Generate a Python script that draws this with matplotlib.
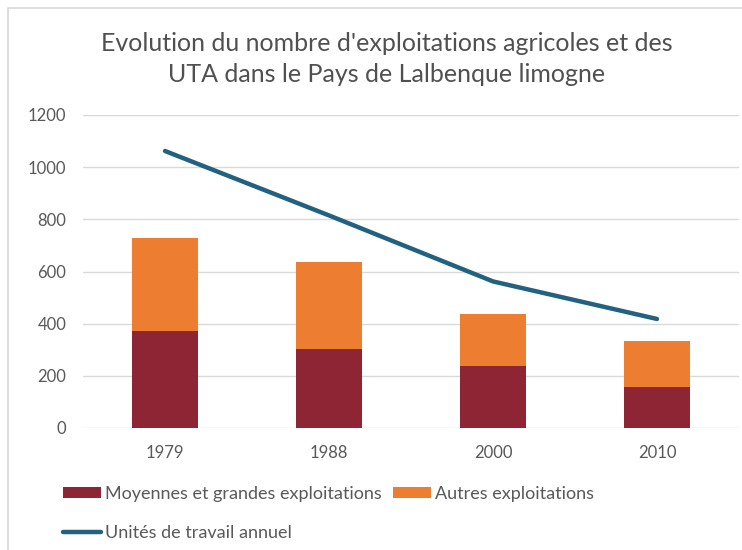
import matplotlib
matplotlib.use("Agg")
import matplotlib.pyplot as plt
from matplotlib.patches import Rectangle
import numpy as np

years = ["1979", "1988", "2000", "2010"]
moyennes = [372, 301, 237, 158]
autres = [355, 337, 201, 177]
uta = [1062, 815, 562, 418]
yticks = [0, 200, 400, 600, 800, 1000, 1200]

plt.rcParams['font.family'] = ['Lato', 'DejaVu Sans']

fig = plt.figure(figsize=(7.42, 5.5), dpi=100)
W, H = 742, 550
ax = fig.add_axes([83 / W, 1 - 428 / H, (739 - 83) / W, (428 - 115) / H])

x = np.arange(len(years))
c_red = '#8E2535'
c_orange = '#ED7D31'
c_line = '#22617F'

b1 = ax.bar(x, moyennes, width=0.4, color=c_red, label='Moyennes et grandes exploitations', zorder=2)
b2 = ax.bar(x, autres, width=0.4, bottom=moyennes, color=c_orange, label='Autres exploitations', zorder=2)
l1, = ax.plot(x, uta, color=c_line, lw=3.2, label='Unités de travail annuel', zorder=3, solid_capstyle='round')

ax.set_xlim(-0.5, len(years) - 0.5)
ax.set_ylim(0, 1200)
ax.set_yticks(yticks)
ax.set_xticks(x)
ax.set_xticklabels(years)
ax.yaxis.grid(True, color='#D9D9D9', lw=1)
ax.set_axisbelow(True)
for s in ax.spines.values():
    s.set_visible(False)
ax.tick_params(length=0, colors='#595959', labelsize=12)
ax.tick_params(axis='y', pad=12)
ax.tick_params(axis='x', pad=12)

fig.text(387 / W, 1 - 59 / H, "Evolution du nombre d'exploitations agricoles et des\nUTA dans le Pays de Lalbenque limogne",
         ha='center', va='center', fontsize=18, color='#505050', linespacing=1.42)

leg = fig.legend(handles=[b1, l1, b2], labels=['Moyennes et grandes exploitations', 'Unités de travail annuel', 'Autres exploitations'],
                 ncol=2, loc='upper left', bbox_to_anchor=(63 / W, 1 - 486 / H), frameon=False,
                 fontsize=13, labelcolor='#595959', handlelength=2.1, handleheight=0.58, handletextpad=0.22,
                 columnspacing=0.65, labelspacing=1.3, borderaxespad=0, borderpad=0)

fig.patches.append(Rectangle((8 / W, -0.1), 1.2, 1 - 8 / H + 0.1, transform=fig.transFigure,
                             fill=False, edgecolor='#D9D9D9', lw=1.2))

fig.savefig('out.png', dpi=100)
